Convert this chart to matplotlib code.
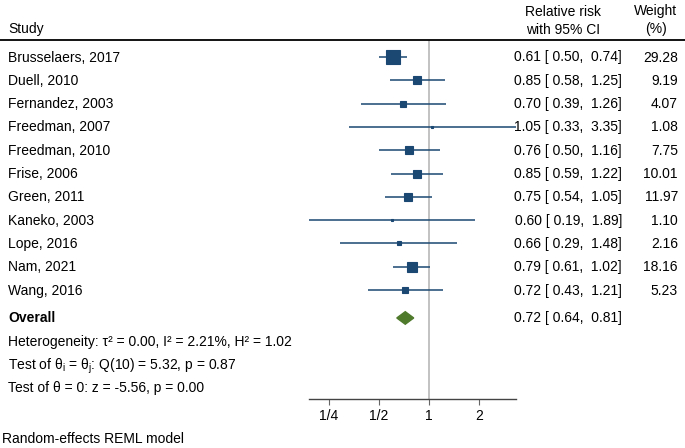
import numpy as np
import matplotlib
matplotlib.use("Agg")
import matplotlib.pyplot as plt
import matplotlib.transforms as mtrans
from matplotlib.lines import Line2D
from matplotlib.patches import Polygon

plt.rcParams['font.family'] = ['Liberation Sans', 'DejaVu Sans']
plt.rcParams['mathtext.fontset'] = 'custom'
plt.rcParams['mathtext.rm'] = 'Liberation Sans'
plt.rcParams['mathtext.it'] = 'Liberation Sans'

# данные исследований
studies = ["Brusselaers, 2017", "Duell, 2010", "Fernandez, 2003", "Freedman, 2007",
           "Freedman, 2010", "Frise, 2006", "Green, 2011", "Kaneko, 2003",
           "Lope, 2016", "Nam, 2021", "Wang, 2016"]
rr = [0.61, 0.85, 0.70, 1.05, 0.76, 0.85, 0.75, 0.60, 0.66, 0.79, 0.72]
lo = [0.50, 0.58, 0.39, 0.33, 0.50, 0.59, 0.54, 0.19, 0.29, 0.61, 0.43]
hi = [0.74, 1.25, 1.26, 3.35, 1.16, 1.22, 1.05, 1.89, 1.48, 1.02, 1.21]
weights = [29.28, 9.19, 4.07, 1.08, 7.75, 10.01, 11.97, 1.10, 2.16, 18.16, 5.23]

overall_rr, overall_lo, overall_hi = 0.72, 0.64, 0.81
het_lines = [
    "Heterogeneity: τ² = 0.00, I² = 2.21%, H² = 1.02",
    r"Test of θ$_\mathrm{i}$ = θ$_\mathrm{j}$: Q(10) = 5.32, p = 0.87",
    "Test of θ = 0: z = -5.56, p = 0.00",
]
tick_vals = [0.25, 0.5, 1, 2]
tick_labels = ["1/4", "1/2", "1", "2"]

blue = '#1b4872'
green = '#4f7a2c'

W, H = 685, 448
fig = plt.figure(figsize=(W / 100, H / 100), dpi=100)

ax_left, ax_right = 309.3, 516.0
ax_top, ax_bot = 40.0, 399.0
ax = fig.add_axes([ax_left / W, 1 - ax_bot / H, (ax_right - ax_left) / W, (ax_bot - ax_top) / H])

n = len(studies)
rows = np.arange(n)
row0, step = 57.0, 23.3
y_top = (ax_top - row0) / step
y_bot = (ax_bot - row0) / step
overall_y = n + 0.2

ax.set_xscale('log', base=2)
ax.set_xlim(min(lo), max(hi))
ax.set_ylim(y_bot, y_top)

ax.axvline(1, color='#bdbdbd', lw=1.3, zorder=1)

ax.hlines(rows, lo, hi, color=blue, lw=1.1, zorder=2)
ms = 10.0 * np.sqrt(np.array(weights) / max(weights))
for y, x, m in zip(rows, rr, ms):
    ax.plot(x, y, marker='s', ms=m, color=blue, mec=blue, mew=0.8, zorder=3)

dh = 0.27
diamond = Polygon([(overall_lo, overall_y), (overall_rr, overall_y - dh),
                   (overall_hi, overall_y), (overall_rr, overall_y + dh)],
                  closed=True, color=green, zorder=3)
ax.add_patch(diamond)

for s in ['top', 'right', 'left']:
    ax.spines[s].set_visible(False)
ax.spines['bottom'].set_color('#444444')
ax.spines['bottom'].set_linewidth(1.0)
ax.set_yticks([])
ax.set_xticks(tick_vals)
ax.set_xticklabels(tick_labels)
ax.minorticks_off()
ax.tick_params(axis='x', length=4, color='#666666', labelsize=10, pad=3)

# текстовые колонки (чуть выше центра строки)
shift = mtrans.ScaledTranslation(0, 1 / 100, fig.dpi_scale_trans)
tr = mtrans.blended_transform_factory(fig.transFigure, ax.transData) + shift
fs = 10
va = 'center_baseline'
for y, name, r, l, h, w in zip(rows, studies, rr, lo, hi, weights):
    fig.text(8 / W, y, name, transform=tr, fontsize=fs, va=va, ha='left')
    fig.text(622 / W, y, f"{r:.2f} [ {l:.2f},  {h:.2f}]", transform=tr,
             fontsize=fs, va=va, ha='right')
    fig.text(678 / W, y, f"{w:.2f}", transform=tr, fontsize=fs, va=va, ha='right')

fig.text(8 / W, overall_y, "Overall", transform=tr, fontsize=fs, va=va,
         ha='left', fontweight='bold')
fig.text(622 / W, overall_y, f"{overall_rr:.2f} [ {overall_lo:.2f},  {overall_hi:.2f}]",
         transform=tr, fontsize=fs, va=va, ha='right')
for i, t in enumerate(het_lines):
    fig.text(8 / W, overall_y + 1 + i, t, transform=tr, fontsize=fs, va=va, ha='left')

# шапка
fig.text(8 / W, 1 - 27 / H, "Study", fontsize=fs, va=va, ha='left')
fig.text(563 / W, 1 - 10 / H, "Relative risk", fontsize=fs, va=va, ha='center')
fig.text(563 / W, 1 - 28 / H, "with 95% CI", fontsize=fs, va=va, ha='center')
fig.text(656 / W, 1 - 10 / H, "Weight", fontsize=fs, va=va, ha='center')
fig.text(656 / W, 1 - 28 / H, "(%)", fontsize=fs, va=va, ha='center')
fig.add_artist(Line2D([0, 1], [1 - 40 / H, 1 - 40 / H], color='black', lw=1.3,
                      transform=fig.transFigure))

fig.text(2 / W, 1 - 437 / H, "Random-effects REML model", fontsize=fs, va=va, ha='left')

fig.savefig("out.png", dpi=100)
